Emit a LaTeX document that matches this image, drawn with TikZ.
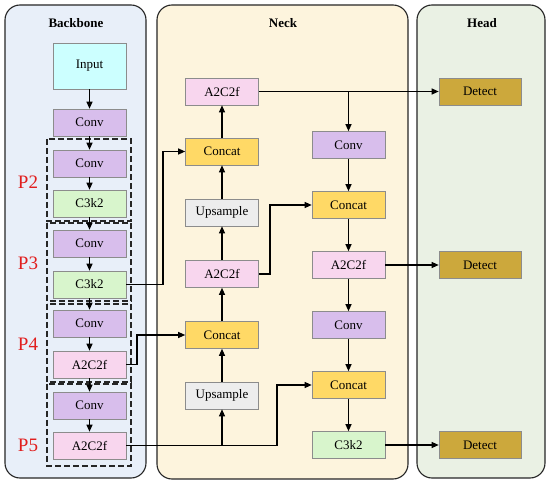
\documentclass[tikz,border=0pt]{standalone}
\usepackage{fontspec}
\setmainfont{Liberation Serif}
\usetikzlibrary{arrows.meta,calc}
\definecolor{bbfill}{RGB}{232,239,249}
\definecolor{nkfill}{RGB}{253,244,221}
\definecolor{hdfill}{RGB}{234,241,228}
\definecolor{cinput}{RGB}{204,255,255}
\definecolor{cconv}{RGB}{216,190,236}
\definecolor{cc3k2}{RGB}{216,245,204}
\definecolor{ca2}{RGB}{248,214,238}
\definecolor{cconcat}{RGB}{255,217,102}
\definecolor{cups}{RGB}{237,237,237}
\definecolor{cdet}{RGB}{204,168,60}
\definecolor{pred}{RGB}{225,30,30}
\tikzset{
  x=1pt,y=-1pt,
  panel/.style={draw=black!85,line width=1.1pt,rounded corners=15pt},
  blk/.style={draw=black!45,line width=0.6pt,minimum width=73pt,minimum height=27pt,inner sep=0pt,font=\fontsize{13}{15}\selectfont},
  conv/.style={blk,fill=cconv},
  cthree/.style={blk,fill=cc3k2},
  atwo/.style={blk,fill=ca2},
  concat/.style={blk,fill=cconcat},
  ups/.style={blk,fill=cups},
  det/.style={blk,fill=cdet,minimum width=82pt},
  ttl/.style={font=\fontsize{13}{15}\selectfont\bfseries},
  plab/.style={text=pred,font=\fontsize{19}{21}\selectfont},
  arr/.style={line width=1.1pt,-{Triangle[length=7pt,width=6pt]}},
  dbox/.style={draw=black!85,line width=1.3pt,dash pattern=on 6pt off 3pt}
}
\begin{document}
\begin{tikzpicture}
\useasboundingbox (0,0) rectangle (550,484);
\fill[white] (0,0) rectangle (550,484);
% panels
\draw[panel,fill=bbfill] (5,5) rectangle (146,478);
\draw[panel,fill=nkfill] (157,5) rectangle (408,479);
\draw[panel,fill=hdfill] (417,5) rectangle (545,478);
\node[ttl] (tb) at (76,23) {Backbone};
\node[ttl] (tn) at (283,23) {Neck};
\node[ttl] (th) at (482,23) {Head};
% dashed groups
\draw[dbox] (47,139) rectangle (131,221);
\draw[dbox] (47,223) rectangle (131,301);
\draw[dbox] (47,304) rectangle (131,382);
\draw[dbox] (47,384) rectangle (131,466);
\node[plab] (p2) at (28,182) {P2};
\node[plab] (p3) at (28,263) {P3};
\node[plab] (p4) at (28,344) {P4};
\node[plab] (p5) at (28,445) {P5};
% backbone
\node[blk,fill=cinput,minimum height=46pt] (inp) at (89.5,66) {Input};
\node[conv] (b1) at (89.5,122.5) {Conv};
\node[conv] (b2) at (89.5,163.5) {Conv};
\node[cthree] (b3) at (89.5,203.5) {C3k2};
\node[conv] (b4) at (89.5,243.5) {Conv};
\node[cthree] (b5) at (89.5,284.5) {C3k2};
\node[conv] (b6) at (89.5,323.5) {Conv};
\node[atwo] (b7) at (89.5,364.5) {A2C2f};
\node[conv] (b8) at (89.5,405.5) {Conv};
\node[atwo] (b9) at (89.5,445.5) {A2C2f};
\foreach \a/\b in {inp/b1,b1/b2,b2/b3,b3/b4,b4/b5,b5/b6,b6/b7,b7/b8,b8/b9}
  \draw[arr] (\a) -- (\b);
% neck col 1
\node[atwo] (na1) at (222,91.5) {A2C2f};
\node[concat] (nc1) at (222,151.5) {Concat};
\node[ups] (nu1) at (222,212.5) {Upsample};
\node[atwo] (na2) at (222,274) {A2C2f};
\node[concat] (nc2) at (222,335) {Concat};
\node[ups] (nu2) at (222,395.5) {Upsample};
% neck col 2
\node[conv] (mv1) at (348.5,145) {Conv};
\node[concat] (mc1) at (348.5,205) {Concat};
\node[atwo] (ma) at (348.5,265) {A2C2f};
\node[conv] (mv2) at (348.5,325) {Conv};
\node[concat] (mc2) at (348.5,385) {Concat};
\node[cthree] (mk) at (348.5,445) {C3k2};
% head
\node[det] (d1) at (480,91.5) {Detect};
\node[det] (d2) at (480,265) {Detect};
\node[det] (d3) at (480,445) {Detect};
% neck vertical flow
\foreach \a/\b in {nu2/nc2,nc2/na2,na2/nu1,nu1/nc1,nc1/na1,mv1/mc1,mc1/ma,ma/mv2,mv2/mc2,mc2/mk}
  \draw[arr] (\a) -- (\b);
% junction columns
\coordinate (j1) at (163,0);
\coordinate (j2) at (137,0);
\coordinate (j3) at (277,0);
\coordinate (j4) at (270,0);
\draw[arr] (b5.east) -- (b5.east -| j1) |- (nc1.west);
\draw[arr] (b7.east) -- (b7.east -| j2) |- (nc2.west);
\draw[arr] (b9.east) -| (nu2.south);
\draw[arr] (nu2.south |- b9.east) -- (b9.east -| j3) |- (mc2.west);
\draw[arr] (na2.east) -- (na2.east -| j4) |- (mc1.west);
\draw[arr] (na1.east) -- (d1.west);
\draw[arr] (mv1.north |- na1.east) -- (mv1.north);
\draw[arr] (ma.east) -- (d2.west);
\draw[arr] (mk.east) -- (d3.west);
\end{tikzpicture}
\end{document}
